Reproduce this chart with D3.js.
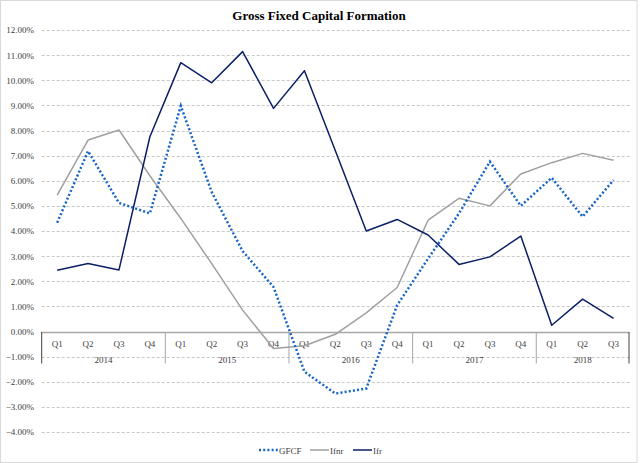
<!DOCTYPE html>
<html>
<head>
<meta charset="utf-8">
<script src="https://cdn.jsdelivr.net/npm/d3@7"></script>
<style>
  html, body { margin: 0; padding: 0; background: #fff; }
  svg { display: block; }
  text { font-family: "Liberation Serif", "DejaVu Serif", serif; fill: #404040; }
</style>
</head>
<body>
<svg id="chart" width="640" height="463"></svg>
<script>
const quarters = ["Q1","Q2","Q3","Q4","Q1","Q2","Q3","Q4","Q1","Q2","Q3","Q4","Q1","Q2","Q3","Q4","Q1","Q2","Q3"];
const years = ["2014","2015","2016","2017","2018"];
const yearCounts = [4, 4, 4, 4, 3];
const gfcf = [4.33, 7.18, 5.12, 4.70, 8.98, 5.55, 3.20, 1.77, -1.60, -2.47, -2.27, 1.05, 2.90, 4.70, 6.76, 5.00, 6.12, 4.57, 6.03];
const ifnr = [5.43, 7.62, 8.02, 6.20, 4.50, 2.70, 0.85, -0.68, -0.57, -0.11, 0.74, 1.75, 4.43, 5.30, 5.00, 6.27, 6.72, 7.09, 6.82];
const ifr  = [2.44, 2.71, 2.45, 7.75, 10.70, 9.90, 11.14, 8.88, 10.38, 7.19, 4.00, 4.46, 3.84, 2.67, 2.97, 3.80, 0.25, 1.29, 0.52];
const yTicks = [-4, -3, -2, -1, 0, 1, 2, 3, 4, 5, 6, 7, 8, 9, 10, 11, 12];
const seriesNames = ["GFCF", "Ifnr", "Ifr"];

const svg = d3.select("#chart");
const W = 640, H = 463;
const plotLeft = 41.7, plotRight = 629, plotTop = 30, plotBottom = 432;

// outer border
svg.append("rect").attr("x", 0.5).attr("y", 0.5).attr("width", 636.5).attr("height", H - 1)
  .attr("fill", "#fff").attr("stroke", "#d9d9d9").attr("stroke-width", 1);

const idx = d3.range(quarters.length);
const x = d3.scaleBand().domain(idx).range([plotLeft, plotRight]).padding(0);
const y = d3.scaleLinear().domain([-4, 12]).range([plotBottom, plotTop]);
const cx = i => x(i) + x.bandwidth() / 2;

// title
svg.append("text").attr("x", 319).attr("y", 20).attr("text-anchor", "middle")
  .style("font-size", "13px").style("font-weight", "bold").style("fill", "#000")
  .text("Gross Fixed Capital Formation");

// gridlines
svg.append("g").selectAll("line").data(yTicks.filter(t => t !== 0)).join("line")
  .attr("x1", plotLeft).attr("x2", plotRight + 1)
  .attr("y1", d => Math.round(y(d)) + 0.5).attr("y2", d => Math.round(y(d)) + 0.5)
  .attr("stroke", "#c8c8c8").attr("stroke-width", 1).attr("stroke-dasharray", "3,2");

// y axis labels
const yAxis = d3.axisLeft(y).tickValues(yTicks).tickSize(0).tickPadding(0)
  .tickFormat(d => d3.format(".2f")(d) + "%");
const gy = svg.append("g").attr("transform", `translate(${34},0)`).call(yAxis);
gy.select(".domain").remove();
gy.selectAll("text").style("font-size", "9px").style("font-family", "Liberation Serif, serif").attr("fill", "#404040");

// category axis at 0
const y0 = Math.round(y(0)) + 0.5;
svg.append("line").attr("x1", plotLeft).attr("x2", plotRight).attr("y1", y0).attr("y2", y0)
  .attr("stroke", "#a6a6a6").attr("stroke-width", 1.5);

// quarter labels
svg.append("g").selectAll("text").data(idx).join("text")
  .attr("x", i => cx(i)).attr("y", y0 + 14).attr("text-anchor", "middle")
  .style("font-size", "9px").text(i => quarters[i]);

// year separators and labels
let acc = 0;
const bounds = [0];
yearCounts.forEach(c => { acc += c; bounds.push(acc); });
const bx = b => b < quarters.length ? x(b) : plotRight;
svg.append("g").selectAll("line").data(bounds).join("line")
  .attr("x1", b => bx(b)).attr("x2", b => bx(b))
  .attr("y1", y0 - 0.5).attr("y2", y0 + 31)
  .attr("stroke", (b, i) => (i === 0 || i === bounds.length - 1) ? "#404040" : "#a6a6a6")
  .attr("stroke-width", 1);
svg.append("g").selectAll("text").data(years).join("text")
  .attr("x", (d, i) => (bx(bounds[i]) + bx(bounds[i + 1])) / 2)
  .attr("y", y0 + 30).attr("text-anchor", "middle")
  .style("font-size", "9px").text(d => d);

// lines
const line = d3.line().x((d, i) => cx(i)).y(d => y(d));
svg.append("path").datum(ifnr).attr("d", line).attr("fill", "none")
  .attr("stroke", "#a0a0a0").attr("stroke-width", 1.5).attr("stroke-linejoin", "round");
svg.append("path").datum(ifr).attr("d", line).attr("fill", "none")
  .attr("stroke", "#0a1f66").attr("stroke-width", 1.5).attr("stroke-linejoin", "round");
svg.append("path").datum(gfcf).attr("d", line).attr("fill", "none")
  .attr("stroke", "#1565c8").attr("stroke-width", 2.5).attr("stroke-dasharray", "2,2.2");

// legend
const ly = 450;
const lg = svg.append("g");
const legendItems = [
  { name: seriesNames[0], x1: 259, x2: 278, color: "#1565c8", w: 2.5, dash: "2,2.2" },
  { name: seriesNames[1], x1: 310, x2: 329, color: "#a0a0a0", w: 1.5, dash: null },
  { name: seriesNames[2], x1: 353, x2: 372, color: "#0a1f66", w: 1.5, dash: null }
];
legendItems.forEach(it => {
  lg.append("line").attr("x1", it.x1).attr("x2", it.x2).attr("y1", ly).attr("y2", ly)
    .attr("stroke", it.color).attr("stroke-width", it.w).attr("stroke-dasharray", it.dash);
  lg.append("text").attr("x", it.x2 + 1).attr("y", ly + 3.5).style("font-size", "9px").text(it.name);
});
</script>
</body>
</html>
